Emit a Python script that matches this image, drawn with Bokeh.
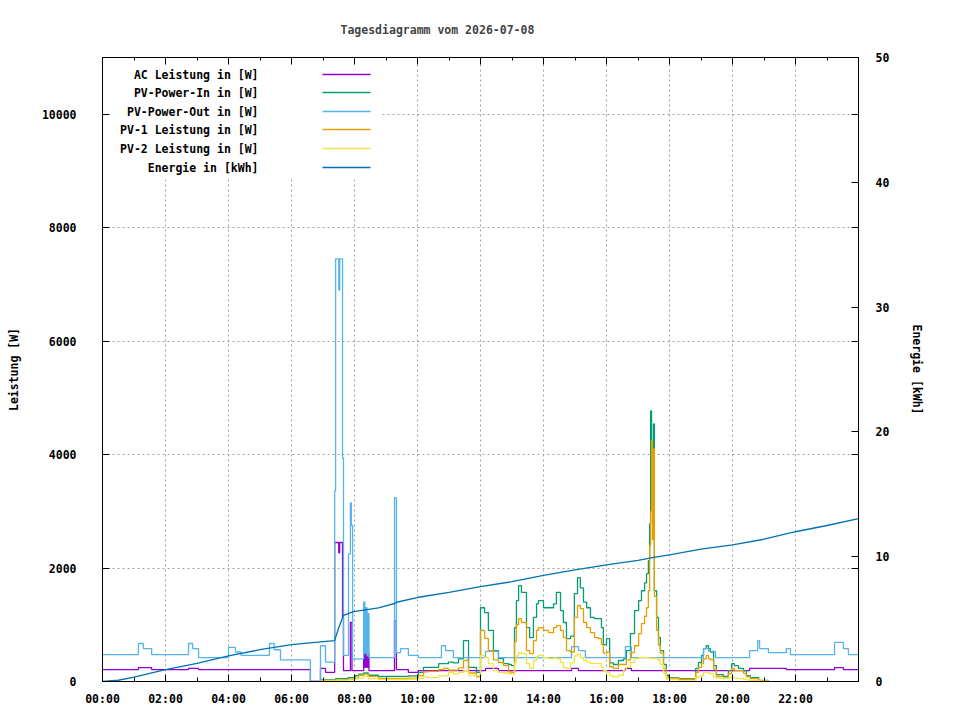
from bokeh.plotting import figure
from bokeh.models import Range1d, LinearAxis, FixedTicker
from bokeh.embed import file_html
from bokeh.resources import INLINE
from bokeh.core.properties import value

# ---------------- data ----------------
title_text = "Tagesdiagramm vom 2026-07-08"
x_tick_hours = [0, 2, 4, 6, 8, 10, 12, 14, 16, 18, 20, 22]
x_tick_labels = ["00:00", "02:00", "04:00", "06:00", "08:00", "10:00",
                 "12:00", "14:00", "16:00", "18:00", "20:00", "22:00"]
x_minor_hours = [1, 3, 5, 7, 9, 11, 13, 15, 17, 19, 21, 23]
y_ticks = [0, 2000, 4000, 6000, 8000, 10000]
y2_ticks = [0, 10, 20, 30, 40, 50]

# AC Leistung [W] (step series)
t_ac = [0.00, 1.14, 1.56, 2.73, 3.05, 6.60, 6.92, 7.08, 7.37, 7.50,
        7.53, 7.62, 7.65, 7.87, 7.92, 8.29, 8.33, 8.36, 8.40, 8.43,
        8.46, 9.27, 9.33, 9.71, 10.03, 12.16, 12.57, 14.89, 15.11, 16.60,
        16.79, 20.54, 21.71, 23.24, 23.52, 24.00]
ac = [210, 245, 210, 230, 210, 0, 230, 160, 2450, 2270,
      2450, 1130, 190, 1040, 190, 490, 250, 490, 250, 490,
      190, 1070, 210, 160, 190, 230, 190, 230, 190, 230,
      190, 230, 210, 245, 210, 210]

# PV-Power-Out [W] (step series)
t_out = [0.00, 1.14, 1.30, 1.56, 2.73, 2.86, 3.05, 4.00, 4.22, 4.40,
         5.30, 5.45, 5.65, 6.60, 6.92, 7.08, 7.37, 7.40, 7.50, 7.53,
         7.62, 7.65, 7.81, 7.87, 7.90, 7.94, 8.29, 8.33, 8.36, 8.40,
         8.43, 8.46, 9.27, 9.33, 9.46, 9.71, 10.03, 10.76, 10.89, 11.14,
         12.16, 12.57, 14.89, 15.11, 15.33, 16.60, 16.79, 19.08, 19.24, 19.46,
         20.54, 20.80, 20.86, 21.14, 21.71, 21.84, 23.24, 23.52, 23.68, 24.00]
pv_out = [475, 670, 580, 475, 670, 580, 420, 600, 520, 460,
          670, 560, 380, 0, 630, 340, 3360, 7450, 6900, 7450,
          3940, 460, 2250, 3150, 2750, 400, 1400, 500, 1300, 450,
          1200, 420, 3240, 510, 580, 460, 420, 630, 545, 420,
          530, 420, 615, 545, 420, 615, 420, 580, 530, 420,
          545, 720, 580, 510, 580, 475, 690, 580, 475, 475]

# daytime PV series [W]
t_day = [6.92, 7.40, 7.80, 8.03, 8.13, 8.29, 8.44, 8.76, 9.08, 9.40,
         9.71, 10.03, 10.19, 10.35, 10.67, 10.83, 10.98, 11.14, 11.30, 11.46,
         11.62, 11.87, 12.00, 12.13, 12.25, 12.41, 12.57, 12.73, 12.89, 12.98,
         13.08, 13.14, 13.21, 13.30, 13.46, 13.56, 13.68, 13.78, 13.84, 14.00,
         14.16, 14.32, 14.41, 14.54, 14.63, 14.73, 14.86, 14.98, 15.08, 15.17,
         15.27, 15.37, 15.49, 15.62, 15.75, 15.84, 15.90, 16.00, 16.10, 16.22,
         16.38, 16.54, 16.63, 16.76, 16.89, 17.02, 17.11, 17.21, 17.27, 17.33,
         17.37, 17.40, 17.43, 17.46, 17.49, 17.52, 17.59, 17.65, 17.71, 17.81,
         17.90, 17.97, 18.29, 18.60, 18.83, 18.92, 19.02, 19.08, 19.17, 19.24,
         19.30, 19.40, 19.49, 19.71, 19.87, 19.97, 20.06, 20.19, 20.35, 20.44,
         20.57, 20.83, 21.14]
pv_in = [30, 50, 70, 105, 130, 150, 110, 88, 90, 90,
         100, 160, 250, 250, 315, 315, 340, 330, 400, 720,
         250, 160, 1300, 1215, 900, 545, 405, 315, 300, 280,
         950, 1425, 1690, 1570, 950, 775, 1130, 1370, 1425, 1300,
         1300, 1370, 1570, 1250, 1040, 755, 800, 1550, 1830, 1650,
         1400, 1300, 1130, 1110, 1110, 950, 650, 755, 330, 300,
         370, 400, 545, 845, 1250, 1425, 1600, 1740, 1900, 2130,
         2780, 4770, 3000, 3360, 4540, 1600, 1130, 775, 545, 300,
         110, 70, 50, 50, 230, 335, 460, 580, 630, 580,
         520, 280, 120, 90, 190, 315, 280, 230, 190, 105,
         70, 20, 5]
pv1 = [20, 30, 40, 60, 110, 130, 90, 50, 55, 55,
       60, 105, 170, 180, 210, 230, 200, 200, 240, 370,
       150, 80, 900, 760, 545, 380, 335, 280, 170, 160,
       700, 1000, 1110, 1040, 545, 490, 720, 900, 950, 900,
       860, 950, 985, 900, 775, 545, 520, 1130, 1340, 1285,
       1040, 950, 860, 775, 755, 650, 500, 520, 260, 230,
       300, 300, 380, 510, 630, 845, 1020, 1150, 1300, 1600,
       2400, 3000, 4250, 2500, 4100, 1500, 900, 640, 500, 230,
       80, 60, 40, 40, 160, 250, 315, 400, 460, 405,
       380, 220, 90, 60, 140, 230, 190, 190, 140, 80,
       50, 15, 5]
pv2 = [10, 20, 30, 45, 60, 90, 50, 38, 35, 35,
       40, 50, 80, 70, 105, 100, 160, 130, 160, 190,
       105, 105, 460, 420, 315, 190, 160, 150, 140, 130,
       330, 450, 510, 490, 315, 230, 370, 440, 460, 420,
       405, 420, 400, 335, 250, 230, 330, 450, 480, 420,
       370, 340, 315, 320, 315, 250, 190, 160, 100, 80,
       110, 200, 250, 335, 405, 420, 420, 420, 420, 420,
       410, 410, 410, 410, 410, 410, 400, 370, 300, 150,
       40, 35, 10, 10, 70, 90, 105, 160, 160, 150,
       140, 80, 60, 50, 70, 70, 60, 50, 40, 30,
       20, 5, 0]

# Energie [kWh]
t_en = [0.0, 0.5, 1.0, 1.5, 2.0, 3.0, 4.0, 5.0, 6.0, 7.0,
        7.37, 7.49, 7.62, 7.65, 7.97, 8.76, 9.27, 9.33, 10.03, 11.0,
        12.0, 13.0, 14.0, 15.0, 16.0, 17.0, 17.5, 18.0, 19.0, 20.0,
        21.0, 22.0, 23.0, 24.0]
energy = [0.0, 0.1, 0.35, 0.65, 0.95, 1.45, 2.05, 2.55, 2.95, 3.2,
          3.28, 4.25, 5.1, 5.3, 5.6, 5.9, 6.25, 6.35, 6.75, 7.15,
          7.6, 8.0, 8.5, 8.95, 9.35, 9.7, 9.95, 10.15, 10.6, 10.95,
          11.4, 12.0, 12.5, 13.05]

legend_labels = ["AC Leistung in [W]", "PV-Power-In in [W]", "PV-Power-Out in [W]",
                 "PV-1 Leistung in [W]", "PV-2 Leistung in [W]", "Energie in [kWh]"]

# ---------------- style ----------------
FONT = "DejaVu Sans Mono"
FS = "11.5px"
C_AC = "#9400d3"
C_IN = "#009e73"
C_OUT = "#56b4e9"
C_PV1 = "#e69f00"
C_PV2 = "#f0e442"
C_EN = "#0072b2"
colors = [C_AC, C_IN, C_OUT, C_PV1, C_PV2, C_EN]
LW = 1.3

X_MAX = 24
Y_MAX = 11000
Y2_MAX = 50
FRAME_W, FRAME_H = 756, 624

p = figure(frame_width=FRAME_W, frame_height=FRAME_H,
           min_border_left=102, min_border_right=86,
           min_border_top=57, min_border_bottom=31,
           x_range=Range1d(0, X_MAX), y_range=Range1d(0, Y_MAX),
           output_backend="svg", toolbar_location=None,
           background_fill_color="white", border_fill_color="white")
p.extra_y_ranges = {"energy": Range1d(0, Y2_MAX)}

p.outline_line_color = "black"
p.outline_line_width = 1
p.outline_line_alpha = 1


def style_axis(ax):
    ax.axis_line_color = "black"
    ax.major_tick_line_color = "black"
    ax.minor_tick_line_color = "black"
    ax.major_tick_in = 7
    ax.major_tick_out = 0
    ax.minor_tick_in = 4
    ax.minor_tick_out = 0
    ax.major_label_text_font = FONT
    ax.major_label_text_font_style = "bold"
    ax.major_label_text_font_size = FS
    ax.major_label_text_color = "black"
    ax.axis_label_text_font = FONT
    ax.axis_label_text_font_style = "bold"
    ax.axis_label_text_font_size = FS
    ax.axis_label_text_color = "black"


xticker = FixedTicker(ticks=x_tick_hours, minor_ticks=x_minor_hours)
yticker = FixedTicker(ticks=y_ticks, minor_ticks=[])
y2ticker = FixedTicker(ticks=y2_ticks, minor_ticks=[])

xa = p.xaxis[0]
style_axis(xa)
xa.ticker = xticker
xa.major_label_overrides = {h: lab for h, lab in zip(x_tick_hours, x_tick_labels)}
xa.major_label_standoff = 10

ya = p.yaxis[0]
style_axis(ya)
ya.ticker = yticker
ya.major_label_standoff = 26
ya.axis_label = "Leistung [W]"
ya.axis_label_standoff = 18

# mirror ticks of the left axis on the right border
ym = LinearAxis(ticker=yticker)
style_axis(ym)
ym.major_label_text_font_size = "0px"
ym.major_label_standoff = 0
ym.major_label_overrides = {t: "" for t in y_ticks}
p.add_layout(ym, "right")

y2 = LinearAxis(y_range_name="energy", ticker=y2ticker, axis_label="Energie [kWh]")
style_axis(y2)
y2.major_label_standoff = 17
y2.axis_label_standoff = 18
p.add_layout(y2, "right")

xt = LinearAxis(ticker=xticker)
style_axis(xt)
xt.minor_tick_in = 3
xt.major_label_text_font_size = "0px"
xt.major_label_standoff = 0
xt.major_label_overrides = {t: "" for t in x_tick_hours}
p.add_layout(xt, "above")

for g in (p.xgrid[0], p.ygrid[0]):
    g.grid_line_color = "#a0a0a0"
    g.grid_line_dash = "2 3"
    g.grid_line_width = 1
p.xgrid[0].ticker = xticker
p.ygrid[0].ticker = yticker

p.title.text = title_text
p.title.text_font = FONT
p.title.text_font_style = "bold"
p.title.text_font_size = FS
p.title.align = "left"
p.title.offset = 238
p.title.standoff = 39
p.title.vertical_align = "middle"


# ---------------- legend (drawn like gnuplot: text left, sample right) ----------------
def hx(px):
    return (px - 104) / FRAME_W * X_MAX


def wy(py):
    return (681 - py) / FRAME_H * Y_MAX


leg_rows = [74, 92, 111, 129, 148, 167]
p.quad(left=[hx(104)], right=[hx(381)], top=[Y_MAX], bottom=[wy(179)],
       fill_color="white", line_color=None)
p.text(x=[hx(260)] * 6, y=[wy(r) for r in leg_rows], text=legend_labels,
       text_align="right", text_baseline="middle",
       text_font=value(FONT), text_font_style="bold",
       text_font_size=value(FS), text_color="black")
p.segment(x0=[hx(324)] * 6, x1=[hx(372)] * 6,
          y0=[wy(r) for r in leg_rows], y1=[wy(r) for r in leg_rows],
          line_color=colors, line_width=LW)

# ---------------- series ----------------
p.step(t_ac, ac, mode="after", line_color=C_AC, line_width=LW)
p.step(t_day, pv_in, mode="after", line_color=C_IN, line_width=LW)
p.step(t_out, pv_out, mode="after", line_color=C_OUT, line_width=LW)
p.step(t_day, pv1, mode="after", line_color=C_PV1, line_width=LW)
p.step(t_day, pv2, mode="after", line_color=C_PV2, line_width=LW)
p.line(t_en, energy, y_range_name="energy", line_color=C_EN, line_width=LW)

open("out.html", "w").write(file_html(p, INLINE))
